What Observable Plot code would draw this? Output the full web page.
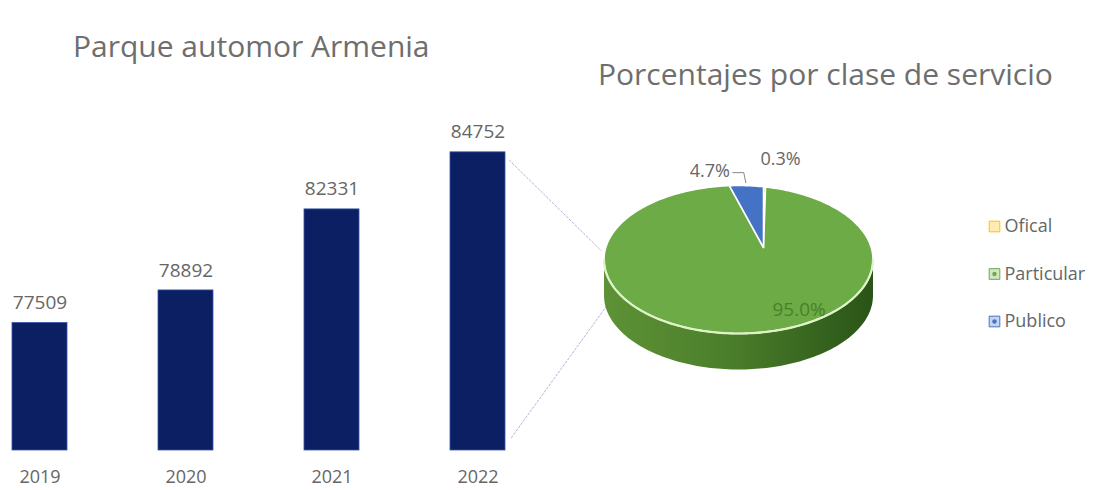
<!DOCTYPE html>
<html><head><meta charset="utf-8">
<script src="https://cdn.jsdelivr.net/npm/d3@7"></script>
<script src="https://cdn.jsdelivr.net/npm/@observablehq/plot@0.6"></script>
<style>
body{margin:0;background:#fff;}
#wrap{position:relative;width:1094px;height:490px;overflow:hidden;font-family:"Open Sans",sans-serif;}
.title{position:absolute;color:#6e6e6e;font-size:30px;white-space:nowrap;line-height:1;}
#t1{left:73px;top:31px;}
#t2{left:598px;top:59px;}
#bars,#pie{position:absolute;left:0;top:0;}
</style></head><body>
<div id="wrap">
<div class="title" id="t1">Parque automor Armenia</div>
<div class="title" id="t2">Porcentajes por clase de servicio</div>
<div id="bars"></div><div id="pie"></div>
</div>
<script>
// ---- data ----
const years = ["2019", "2020", "2021", "2022"];
const vehicles = [77509, 78892, 82331, 84752];
const classes = ["Ofical", "Particular", "Publico"];
const shares = [0.3, 95.0, 4.7];
const shareLabels = ["0.3%", "95.0%", "4.7%"];
const classColors = ["#ffc000", "#6cab45", "#4472c4"];

// ---- bar chart ----
const yMin = 72100;
const barData = years.map((y, i) => ({year: y, value: vehicles[i]}));
const barPlot = Plot.plot({
  width: 540, height: 490,
  marginTop: 146, marginBottom: 40, marginLeft: 3, marginRight: 26,
  style: {background: "transparent", fontFamily: "Open Sans", color: "#666"},
  x: {type: "band", domain: years, paddingInner: 0.62, paddingOuter: 0.05, label: null},
  y: {domain: [yMin, 85000], axis: null},
  marks: [
    Plot.rectY(barData, {x: "year", y1: () => yMin, y2: "value", fill: "#0b1f62", stroke: "#3556a8", strokeWidth: 0.8}),
    Plot.text(barData, {x: "year", y: "value", text: d => String(d.value), dy: -20, fontSize: 19, fill: "#666"}),
    Plot.axisX({tickSize: 0, tickPadding: 20, fontSize: 18, label: null})
  ]
});
document.getElementById("bars").appendChild(barPlot);
const bx = barPlot.scale("x"), by = barPlot.scale("y");

// ---- pie geometry (3D-looking, perspective) ----
const cx = 738, cy = 259, rx = 134.5, ry = 74, ax = 763, ay = 247, depth = 36;
function rayPoint(theta) {
  const du = Math.sin(theta), dv = -Math.cos(theta);
  const u0 = (ax - cx) / rx, v0 = (ay - cy) / ry;
  const b = u0 * du + v0 * dv, c = u0 * u0 + v0 * v0 - 1;
  const t = -b + Math.sqrt(b * b - c);
  return [cx + rx * (u0 + du * t), cy + ry * (v0 + dv * t)];
}
const total = d3.sum(shares);
let acc = 0;
const slices = classes.map((k, i) => {
  const a0 = acc / total * 2 * Math.PI; acc += shares[i];
  const a1 = acc / total * 2 * Math.PI;
  return {k, i, a0, a1, mid: (a0 + a1) / 2};
});
const slicePts = [];
for (const s of slices) {
  slicePts.push({k: s.k, x: ax, y: ay});
  const n = Math.max(2, Math.ceil((s.a1 - s.a0) / 0.02));
  for (let j = 0; j <= n; j++) {
    const [x, y] = rayPoint(s.a0 + (s.a1 - s.a0) * j / n);
    slicePts.push({k: s.k, x, y});
  }
}
// front wall (Particular covers the whole front)
const wall = [];
for (let j = 0; j <= 120; j++) { const p = Math.PI * j / 120; wall.push({x: cx + rx * Math.cos(p), y: cy + ry * Math.sin(p)}); }
for (let j = 120; j >= 0; j--) { const p = Math.PI * j / 120; wall.push({x: cx + rx * Math.cos(p), y: cy + depth + ry * Math.sin(p)}); }
const rim = d3.range(0, 121).map(j => { const p = Math.PI * j / 120; return {x: cx + rx * Math.cos(p), y: cy + ry * Math.sin(p)}; });

const pt = k => slices.find(s => s.k === k);
const lab = k => { const s = pt(k); const [x, y] = rayPoint(s.mid); return {x, y}; };

// leader lines from last bar to pie
const last = years[years.length - 1];
const barRight = bx.apply(last) + bx.bandwidth;
const leaders = [
  {g: 0, x: barRight + 4, y: by.apply(vehicles[3]) + 8}, {g: 0, x: cx - rx - 3, y: cy - 9},
  {g: 1, x: barRight + 6, y: by.apply(yMin) - 13}, {g: 1, x: cx - rx + 3, y: cy + depth + 10}
];

const legendData = classes.map((k, i) => ({k, i, c: classColors[i]}));
const pub = lab("Publico");
const pubLeader = [{x: pub.x - 14, y: pub.y - 13}, {x: pub.x - 3, y: pub.y - 13}, {x: pub.x - 1, y: pub.y - 3}];

const piePlot = Plot.plot({
  width: 1094, height: 490, margin: 0,
  style: {background: "transparent", fontFamily: "Open Sans"},
  x: {type: "identity", axis: null}, y: {type: "identity", axis: null},
  marks: [
    Plot.line(leaders, {x: "x", y: "y", z: "g", stroke: "#b4b4d8", strokeWidth: 1, strokeDasharray: "2,2"}),
    () => {
      const svg = d3.create("svg:defs");
      const g = svg.append("linearGradient").attr("id", "wallGrad").attr("x1", "0").attr("x2", "1").attr("y1", "0").attr("y2", "0");
      g.append("stop").attr("offset", "0").attr("stop-color", "#5e9236");
      g.append("stop").attr("offset", "0.45").attr("stop-color", "#4c7f2b");
      g.append("stop").attr("offset", "0.85").attr("stop-color", "#33601d");
      g.append("stop").attr("offset", "1").attr("stop-color", "#2a5417");
      return svg.node();
    },
    Plot.line(wall, {x: "x", y: "y", fill: "url(#wallGrad)", stroke: "none", curve: "linear-closed"}),
    Plot.line(slicePts, {x: "x", y: "y", z: "k", fill: d => classColors[classes.indexOf(d.k)], stroke: "white", strokeWidth: 1.6, curve: "linear-closed", strokeLinejoin: "round"}),
    Plot.line(rim, {x: "x", y: "y", stroke: "#dff3c8", strokeWidth: 2.2}),
    // labels
    Plot.text([pub], {x: "x", y: "y", text: () => shareLabels[2], dx: -37, dy: -14, fontSize: 18, fill: "#666"}),
    Plot.line(pubLeader, {x: "x", y: "y", stroke: "#888", strokeWidth: 1}),
    Plot.text([lab("Ofical")], {x: "x", y: "y", text: () => shareLabels[0], dx: 16, dy: -28, fontSize: 18, fill: "#666"}),
    Plot.text([lab("Particular")], {x: "x", y: "y", text: () => shareLabels[1], dx: 15, dy: -19, fontSize: 19, fill: "#4a8029"}),
    // legend
    Plot.dot(legendData, {x: () => 994, y: d => 226 + d.i * 47.5, symbol: "square", r: 6, fill: d => d.c, fillOpacity: 0.3, stroke: d => d.c, strokeWidth: 1}),
    Plot.dot(legendData.filter(d => d.i > 0), {x: () => 994, y: d => 226 + d.i * 47.5, r: 2.2, fill: d => d.c}),
    Plot.text(legendData, {x: () => 1004, y: d => 226 + d.i * 47.5, text: "k", textAnchor: "start", fontSize: 18, fill: "#666"})
  ]
});
document.getElementById("pie").appendChild(piePlot);
</script>
</body></html>
